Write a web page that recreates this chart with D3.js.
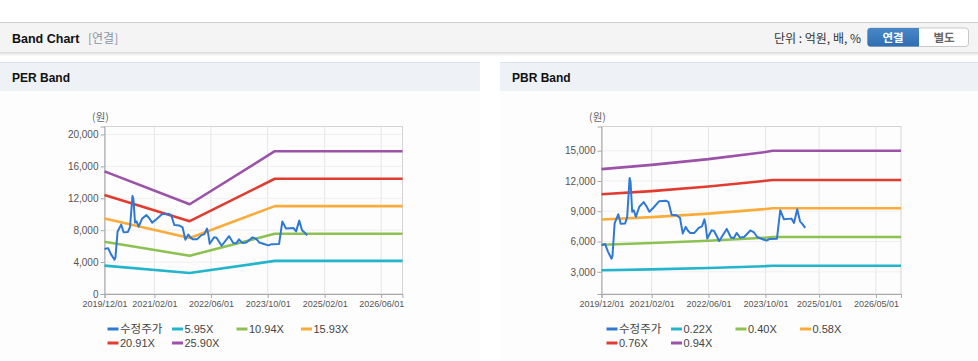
<!DOCTYPE html>
<html>
<head>
<meta charset="utf-8">
<script src="https://cdn.jsdelivr.net/npm/d3@7"></script>
<style>
  html, body { margin: 0; padding: 0; background: #ffffff; }
  body { width: 978px; height: 361px; overflow: hidden; }
  svg { display: block; }
</style>
</head>
<body>
<svg id="chart" width="978" height="361"></svg>
<script>
// ---------- DATA ----------
const priceDates = ["2019-12-01","2020-01-01","2020-01-25","2020-02-25","2020-03-04","2020-03-22","2020-04-22","2020-05-13","2020-06-19","2020-07-07","2020-07-28","2020-08-05","2020-08-19","2020-09-01","2020-09-19","2020-10-19","2020-11-25","2020-12-19","2021-01-13","2021-02-16","2021-04-07","2021-06-04","2021-06-25","2021-07-22","2021-09-01","2021-10-01","2021-10-25","2021-11-19","2021-12-07","2021-12-28","2022-02-01","2022-03-10","2022-04-07","2022-04-28","2022-05-07","2022-05-22","2022-06-28","2022-07-19","2022-09-01","2022-11-04","2022-12-10","2023-01-04","2023-01-28","2023-02-25","2023-04-01","2023-05-25","2023-06-25","2023-07-22","2023-09-13","2023-10-10","2023-11-04","2024-01-07","2024-02-04","2024-03-07","2024-05-10","2024-06-01","2024-06-28","2024-07-22","2024-08-10","2024-09-04"];
const priceValues = [5650,5750,5000,4300,4600,7800,8700,7750,7780,8400,12300,11900,8950,9100,8450,9450,9900,9500,8950,9350,10000,10050,9900,8650,8600,8350,6800,7450,7100,6850,6850,7350,7500,8200,7700,6300,7120,7050,6050,7250,6400,6350,6850,6400,6450,7100,6900,6450,6200,6100,6250,6280,9100,8200,8270,7850,9200,8000,7750,7350];

// PER band
const perBandDates = ["2019-12-01","2021-12-01","2023-12-01","2026-12-01"];
const perBandLabels = ["5.95X","10.94X","15.93X","20.91X","25.90X"];
const per595  = [3560, 2630, 4150, 4150];
const per1094 = [6540, 4800, 7550, 7550];
const per1593 = [9460, 7020, 11020, 11020];
const per2091 = [12420, 9130, 14450, 14450];
const per2590 = [15370, 11250, 17900, 17900];
const perYTicks = [0, 4000, 8000, 12000, 16000, 20000];
const perXTicks = ["2019-12-01","2021-02-01","2022-06-01","2023-10-01","2025-02-01","2026-06-01"];

// PBR band
const pbrBandDates = ["2019-12-01","2021-02-01","2022-06-01","2023-10-01","2023-12-01","2026-12-01"];
const pbrBandLabels = ["0.22X","0.40X","0.58X","0.76X","0.94X"];
const pbr022 = [3150, 3240, 3370, 3560, 3600, 3600];
const pbr040 = [5680, 5850, 6080, 6380, 6450, 6450];
const pbr058 = [8180, 8420, 8770, 9220, 9300, 9300];
const pbr076 = [10690, 11000, 11460, 12020, 12100, 12100];
const pbr094 = [13180, 13600, 14170, 14870, 15000, 15000];
const pbrYTicks = [3000, 6000, 9000, 12000, 15000];
const pbrXTicks = ["2019-12-01","2021-02-01","2022-06-01","2023-10-01","2025-01-01","2026-05-01"];

const xDomainDates = ["2019-12-01","2026-12-01"];
const priceLabel = "수정주가";
const bandColors = ["#22b5cc","#8dc152","#fbab3a","#e23b2f","#9b52a8"];
const priceColor = "#2f78d4";

// ---------- DRAW ----------
const parse = d3.timeParse("%Y-%m-%d");
const fmtTick = d3.timeFormat("%Y/%m/%d");
const svg = d3.select("#chart");
const FONT = "'Liberation Sans', Arial, 'Noto Sans CJK KR', sans-serif";
const KFONT = "'Noto Sans CJK KR', 'Liberation Sans', sans-serif";

const defs = svg.append("defs");
const shadow = defs.append("linearGradient").attr("id","hdrShadow").attr("x1",0).attr("x2",0).attr("y1",0).attr("y2",1);
shadow.append("stop").attr("offset","0%").attr("stop-color","#d8d8d8");
shadow.append("stop").attr("offset","100%").attr("stop-color","#ffffff");
const blueG = defs.append("linearGradient").attr("id","blueBtn").attr("x1",0).attr("x2",0).attr("y1",0).attr("y2",1);
blueG.append("stop").attr("offset","0%").attr("stop-color","#4a88c8");
blueG.append("stop").attr("offset","100%").attr("stop-color","#2d6db0");

// Header bar
svg.append("rect").attr("x",0).attr("y",22).attr("width",978).attr("height",30).attr("fill","#f4f4f4");
svg.append("line").attr("x1",0).attr("x2",978).attr("y1",22.5).attr("y2",22.5).attr("stroke","#d0d0d0");
svg.append("rect").attr("x",0).attr("y",52).attr("width",978).attr("height",4).attr("fill","url(#hdrShadow)");
svg.append("text").attr("x",12).attr("y",42.5).text("Band Chart")
  .attr("font-family",FONT).attr("font-size",12.5).attr("font-weight","bold").attr("fill","#111");
svg.append("text").attr("x",88).attr("y",42.5).text("[연결]")
  .attr("font-family",KFONT).attr("font-size",12).attr("fill","#8a94a8");
svg.append("text").attr("x",861).attr("y",42.5).attr("text-anchor","end").text("단위 : 억원, 배, %")
  .attr("font-family",KFONT).attr("font-size",12).attr("fill","#333");
// buttons
svg.append("rect").attr("x",867.5).attr("y",28).attr("width",101).attr("height",18.5).attr("rx",3)
  .attr("fill","#fff").attr("stroke","#c8c8c8");
svg.append("path").attr("d","M870.5,28 H919 V46.5 H870.5 Q867.5,46.5 867.5,43.5 V31 Q867.5,28 870.5,28 Z").attr("fill","url(#blueBtn)");
svg.append("text").attr("x",893).attr("y",41.5).attr("text-anchor","middle").text("연결")
  .attr("font-family",KFONT).attr("font-size",11.5).attr("font-weight","bold").attr("fill","#fff");
svg.append("text").attr("x",944).attr("y",41.5).attr("text-anchor","middle").text("별도")
  .attr("font-family",KFONT).attr("font-size",11.5).attr("font-weight","bold").attr("fill","#666");

function panel(x0, w, title) {
  svg.append("rect").attr("x",x0).attr("y",62).attr("width",w).attr("height",29).attr("fill","#eef1f6");
  svg.append("line").attr("x1",x0).attr("x2",x0+w).attr("y1",62.5).attr("y2",62.5).attr("stroke","#dde1e8");
  svg.append("rect").attr("x",x0).attr("y",91).attr("width",w).attr("height",270).attr("fill","#fdfdfd");
  svg.append("text").attr("x",x0+12).attr("y",82).text(title)
    .attr("font-family",FONT).attr("font-size",12).attr("font-weight","bold").attr("fill","#111");
}
panel(0, 480, "PER Band");
panel(500, 478, "PBR Band");

function drawChart(opt) {
  const {left, right, top, bottom, yDomain, yTicks, xTicks, bandDates, bands, bandLabels, legendX} = opt;
  const x = d3.scaleTime().domain(xDomainDates.map(parse)).range([left, right]);
  const y = d3.scaleLinear().domain(yDomain).range([bottom, top]);
  const g = svg.append("g");

  // grid
  g.selectAll(".vg").data(xTicks.map(parse)).enter().append("line")
    .attr("x1",d=>x(d)).attr("x2",d=>x(d)).attr("y1",top).attr("y2",bottom)
    .attr("stroke","#e6e6e6");
  g.selectAll(".hg").data(yTicks).enter().append("line")
    .attr("x1",left).attr("x2",right).attr("y1",d=>y(d)).attr("y2",d=>y(d))
    .attr("stroke","#efefef");
  // frame
  g.append("rect").attr("x",left).attr("y",top).attr("width",right-left).attr("height",bottom-top)
    .attr("fill","none").attr("stroke","#d4d4d4");

  // axes
  const yAxis = d3.axisLeft(y).tickValues(yTicks).tickSize(4).tickPadding(2).tickFormat(d3.format(","));
  const ya = g.append("g").attr("transform",`translate(${left},0)`).call(yAxis);
  const xAxis = d3.axisBottom(x).tickValues(xTicks.map(parse)).tickSize(4).tickPadding(3).tickFormat(fmtTick);
  const xa = g.append("g").attr("transform",`translate(0,${bottom})`).call(xAxis);
  [ya, xa].forEach(a => {
    a.select(".domain").attr("stroke","#a8a8a8");
    a.selectAll(".tick line").attr("stroke","#a8a8a8");
    a.selectAll("text").attr("fill","#555").attr("font-family",FONT);
  });
  ya.selectAll("text").attr("font-size",10);
  xa.selectAll("text").attr("font-size",9);

  g.append("text").attr("x",left-4).attr("y",121).attr("text-anchor","middle").text("(원)")
    .attr("font-family",KFONT).attr("font-size",10.5).attr("fill","#666");

  // bands
  const bd = bandDates.map(parse);
  const line = d3.line().x(d=>x(d[0])).y(d=>y(d[1]));
  bands.forEach((vals, i) => {
    g.append("path").datum(bd.map((d,j)=>[d, vals[j]]))
      .attr("d", line).attr("fill","none").attr("stroke",bandColors[i])
      .attr("stroke-width",2.6).attr("stroke-linejoin","round");
  });
  // price
  g.append("path").datum(priceDates.map((d,j)=>[parse(d), priceValues[j]]))
    .attr("d", line).attr("fill","none").attr("stroke",priceColor)
    .attr("stroke-width",2).attr("stroke-linejoin","round");

  // legend
  const items = [{label: priceLabel, color: priceColor}].concat(bandLabels.map((l,i)=>({label:l,color:bandColors[i]})));
  items.forEach((it, i) => {
    const col = i % 4, row = Math.floor(i / 4);
    const lx = legendX + col * 64.5, ly = 329 + row * 14;
    g.append("line").attr("x1",lx).attr("x2",lx+11).attr("y1",ly).attr("y2",ly)
      .attr("stroke",it.color).attr("stroke-width",3);
    g.append("text").attr("x",lx+12.5).attr("y",ly+4).text(it.label)
      .attr("font-family", i===0 ? KFONT : FONT).attr("font-size", i===0 ? 11.5 : 11).attr("fill","#444");
  });
}

drawChart({
  left: 104.5, right: 402.5, top: 126.5, bottom: 294,
  yDomain: [0, 21000], yTicks: perYTicks, xTicks: perXTicks,
  bandDates: perBandDates, bands: [per595, per1094, per1593, per2091, per2590],
  bandLabels: perBandLabels, legendX: 107.5
});
drawChart({
  left: 601.5, right: 901, top: 126.5, bottom: 294,
  yDomain: [800, 17400], yTicks: pbrYTicks, xTicks: pbrXTicks,
  bandDates: pbrBandDates, bands: [pbr022, pbr040, pbr058, pbr076, pbr094],
  bandLabels: pbrBandLabels, legendX: 606.5
});
</script>
</body>
</html>
